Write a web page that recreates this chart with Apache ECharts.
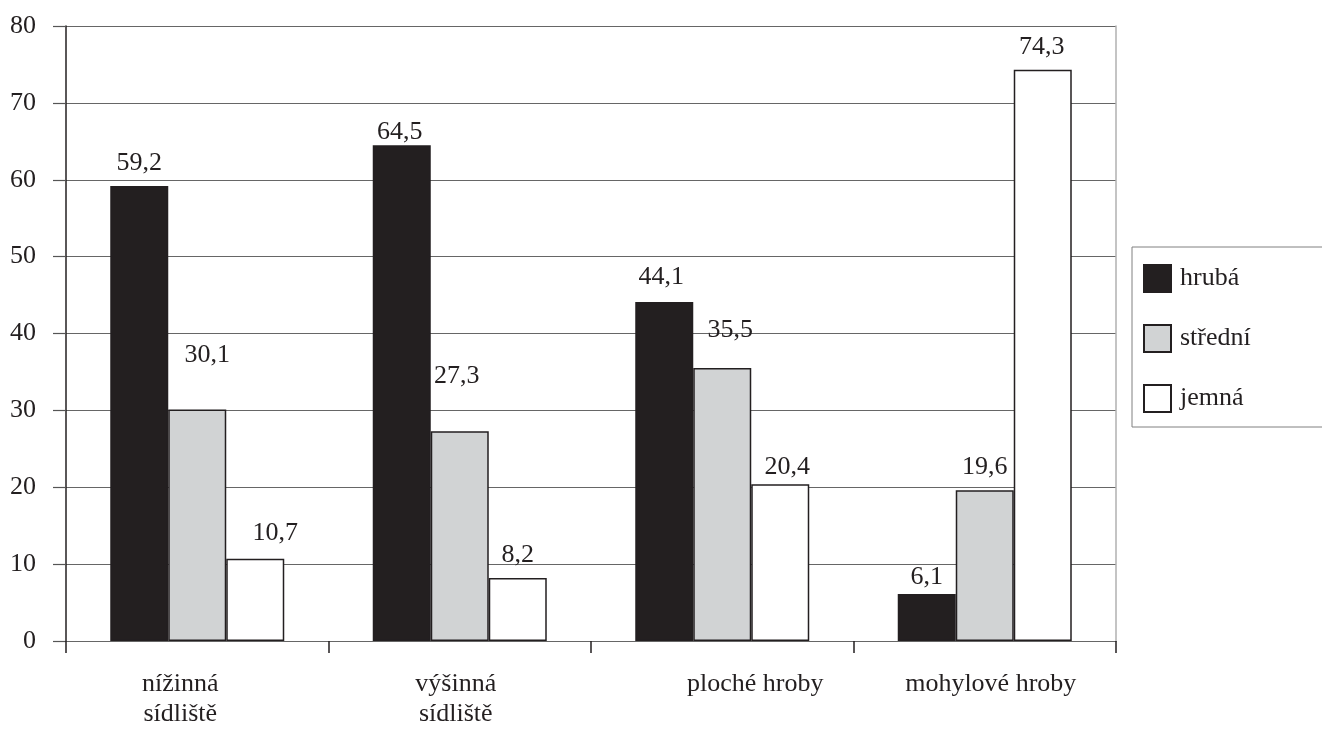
<!DOCTYPE html>
<html>
<head>
<meta charset="utf-8">
<script src="https://cdn.jsdelivr.net/npm/echarts@6/dist/echarts.min.js"></script>
<style>
html,body{margin:0;padding:0;background:#fff;}
#chart{width:1322px;height:729px;}
</style>
</head>
<body>
<div id="chart"></div>
<script>
const categories = ['nížinná\nsídliště', 'výšinná\nsídliště', 'ploché hroby', 'mohylové hroby'];
const seriesNames = ['hrubá', 'střední', 'jemná'];
const hruba = [59.2, 64.5, 44.1, 6.1];
const stredni = [30.1, 27.3, 35.5, 19.6];
const jemna = [10.7, 8.2, 20.4, 74.3];
const yTicks = [0, 10, 20, 30, 40, 50, 60, 70, 80];

// style-only nudges (pixels), kept apart from the data
const catLabelShift = [-17, -4, 33, 6];
const valueLabelNudge = [
  [[0, -2], [-2, 8], [-3, -4], [0, 4]],
  [[10, -33], [-3, -34], [8, -17], [0, -2]],
  [[20, -5], [0, -2], [7, 4], [-1, -2]]
];

const FONT = "'Liberation Serif', 'Times New Roman', serif";
const INK = '#231f20';
const fills = ['#231f20', '#d1d3d4', '#ffffff'];
const seriesData = [hruba, stredni, jemna];

const chart = echarts.init(document.getElementById('chart'), null, {renderer: 'canvas'});

const catData = categories.map((c, i) => {
  const s = catLabelShift[i];
  return {
    value: c,
    textStyle: { padding: s < 0 ? [0, -2 * s, 0, 0] : [0, 0, 0, 2 * s] }
  };
});

chart.setOption({
  animation: false,
  backgroundColor: '#ffffff',
  textStyle: { fontFamily: FONT, color: INK },
  grid: { left: 66, right: 206, top: 26, bottom: 86, containLabel: false },
  legend: {
    orient: 'vertical',
    left: 1132,
    top: 247,
    itemWidth: 27,
    itemHeight: 27,
    itemGap: 31,
    icon: 'rect',
    padding: [17, 80, 14, 11],
    borderColor: '#808080',
    borderWidth: 1,
    textStyle: { fontFamily: FONT, fontSize: 26, color: INK, padding: [8, 0, 0, 4] },
    data: seriesNames
  },
  xAxis: {
    type: 'category',
    data: catData,
    boundaryGap: true,
    axisLine: { show: true, lineStyle: { color: '#666', width: 1.2 } },
    axisTick: { show: true, alignWithLabel: false, length: 12, lineStyle: { color: INK, width: 1.5 } },
    axisLabel: { fontFamily: FONT, fontSize: 26, color: INK, margin: 28, lineHeight: 30, interval: 0 }
  },
  yAxis: [{
    type: 'value',
    min: yTicks[0],
    max: yTicks[yTicks.length - 1],
    interval: 10,
    axisLine: { show: true, lineStyle: { color: INK, width: 1.5 } },
    axisTick: { show: true, length: 13, lineStyle: { color: '#555', width: 1.2 } },
    axisLabel: { fontFamily: FONT, fontSize: 26, color: INK, margin: 30 },
    splitLine: { show: true, lineStyle: { color: '#666', width: 1.2 } }
  }, {
    type: 'value',
    position: 'right',
    min: yTicks[0],
    max: yTicks[yTicks.length - 1],
    interval: 10,
    axisLine: { show: true, lineStyle: { color: '#b0b0b0', width: 1.5 } },
    axisTick: { show: false },
    axisLabel: { show: false },
    splitLine: { show: false }
  }],
  series: seriesNames.map((name, k) => ({
    name: name,
    type: 'bar',
    yAxisIndex: 0,
    data: seriesData[k].map((v, i) => ({ value: v, label: { offset: valueLabelNudge[k][i] } })),
    barWidth: 58,
    barGap: '0%',
    itemStyle: { color: fills[k], borderColor: INK, borderWidth: 1.5 },
    label: {
      show: true,
      position: 'top',
      distance: 8,
      fontFamily: FONT,
      fontSize: 26,
      color: INK,
      formatter: p => String(p.value).replace('.', ',')
    }
  }))
});
</script>
</body>
</html>
